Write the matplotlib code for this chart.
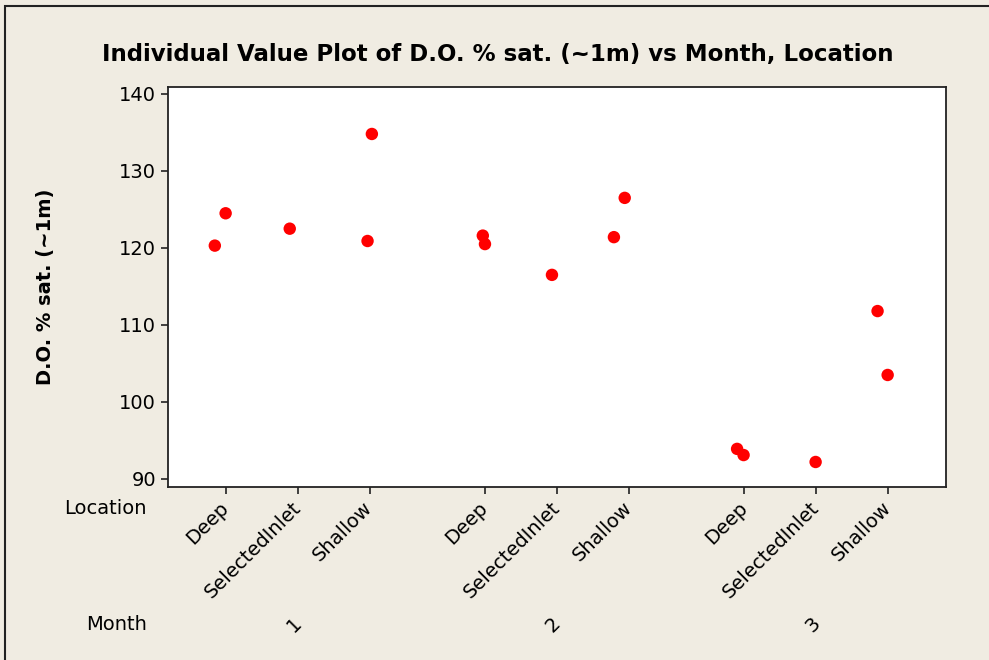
import matplotlib
matplotlib.use("Agg")
import matplotlib.pyplot as plt
from matplotlib.patches import Rectangle
from matplotlib.transforms import blended_transform_factory

# ---- data ----
months = [1, 2, 3]
locations = ["Deep", "SelectedInlet", "Shallow"]
obs_month = [1, 1, 1, 1, 1, 2, 2, 2, 2, 2, 3, 3, 3, 3, 3]
obs_location = ["Deep", "Deep", "SelectedInlet", "Shallow", "Shallow",
                "Deep", "Deep", "SelectedInlet", "Shallow", "Shallow",
                "Deep", "Deep", "SelectedInlet", "Shallow", "Shallow"]
obs_value = [120.3, 124.5, 122.5, 134.8, 120.9,
             121.6, 120.5, 116.5, 121.4, 126.5,
             93.9, 93.1, 92.2, 111.8, 103.5]
# horizontal jitter (as drawn by Minitab)
obs_jitter = [-0.15, 0.0, -0.11, 0.03, -0.03,
              -0.03, 0.0, -0.07, -0.21, -0.06,
              -0.10, -0.01, -0.01, -0.15, -0.01]
y_ticks = [90, 100, 110, 120, 130, 140]

BG = "#F0ECE2"
GROUP_STEP = 3.6

def pos(m, loc):
    return 1 + locations.index(loc) + (months.index(m)) * GROUP_STEP

fig = plt.figure(figsize=(9.89, 6.60), dpi=100, facecolor=BG)
# outer frame (top/left visible)
fig.patches.append(Rectangle((5 / 989, -0.1), 1.2, 1 - 6 / 660 + 0.1,
                             transform=fig.transFigure, fill=False,
                             edgecolor="#222222", linewidth=1.5))

ax = fig.add_axes([168 / 989, 1 - 487 / 660, (946 - 168) / 989, 400 / 660])
ax.set_facecolor("white")

xs = [pos(m, l) + j for m, l, j in zip(obs_month, obs_location, obs_jitter)]
ax.scatter(xs, obs_value, s=80, color="#FF0000", edgecolors="none", zorder=3)

ax.set_xlim(0.2, 11.0)
ax.set_ylim(88.95, 140.9)
ax.set_yticks(y_ticks)
ax.set_yticklabels([str(v) for v in y_ticks], fontsize=14)

tick_pos = [pos(m, l) for m in months for l in locations]
tick_lab = [l for m in months for l in locations]
ax.set_xticks(tick_pos)
ax.set_xticklabels(tick_lab, rotation=45, ha="right", va="center",
                   rotation_mode="anchor", fontsize=14)
ax.tick_params(axis="both", direction="out", length=5, width=1.2, color="#222222")
ax.tick_params(axis="x", pad=8)
for sp in ax.spines.values():
    sp.set_linewidth(1.3)
    sp.set_color("#222222")

# month labels
trans = blended_transform_factory(ax.transData, fig.transFigure)
for m in months:
    ax.text(pos(m, "SelectedInlet") - 0.05, 1 - 625 / 660, str(m), transform=trans,
            rotation=45, ha="center", va="center", fontsize=14)

fig.text(147 / 989, 1 - 508 / 660, "Location", ha="right", va="center", fontsize=14)
fig.text(147 / 989, 1 - 624 / 660, "Month", ha="right", va="center", fontsize=14)

fig.text(46 / 989, 1 - 287 / 660, "D.O. % sat. (~1m)", rotation=90,
         ha="center", va="center", fontsize=14, fontweight="bold")

fig.text(498 / 989, 1 - 54 / 660,
         "Individual Value Plot of D.O. % sat. (~1m) vs Month, Location",
         ha="center", va="center", fontsize=16.5, fontweight="bold")

fig.savefig("out.png", dpi=100, facecolor=BG)
